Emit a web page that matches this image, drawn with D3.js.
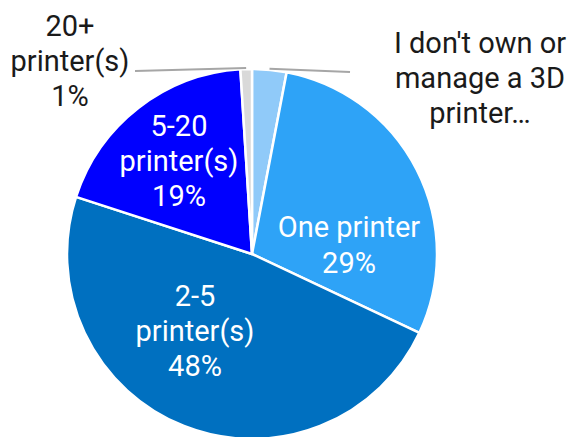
<!DOCTYPE html>
<html>
<head>
<meta charset="utf-8">
<script src="https://cdn.jsdelivr.net/npm/d3@7/dist/d3.min.js"></script>
<style>
  html, body { margin: 0; padding: 0; background: #fff; }
  svg { display: block; font-family: Roboto, "Noto Sans", sans-serif; }
</style>
</head>
<body>
<svg id="chart" width="572" height="437"></svg>
<script>
// Printer ownership shares (percent), clockwise from 12 o'clock
const categories = ["I don't own or manage a 3D printer…", "One printer", "2-5 printer(s)", "5-20 printer(s)", "20+ printer(s)"];
const values = [3, 29, 48, 19, 1];
const colors = ["#90CAF9", "#2EA3F7", "#0070C0", "#0000FF", "#D9D9D9"];

// Wrapped label text for each slice
const labelLines = [
  ["I don't own or", "manage a 3D", "printer…"],
  ["One printer", values[1] + "%"],
  ["2-5", "printer(s)", values[2] + "%"],
  ["5-20", "printer(s)", values[3] + "%"],
  ["20+", "printer(s)", values[4] + "%"]
];

const cx = 252, cy = 254, R = 185;
const fontSize = 29, lineH = 35;

const svg = d3.select("#chart");
const g = svg.append("g").attr("transform", `translate(${cx},${cy})`);

const pie = d3.pie().sort(null).value(d => d)(values);
const arc = d3.arc().innerRadius(0).outerRadius(R);

g.selectAll("path.slice")
  .data(pie)
  .join("path")
  .attr("class", "slice")
  .attr("d", arc)
  .attr("fill", (d, i) => colors[i])
  .attr("stroke", "#fff")
  .attr("stroke-width", 2.5)
  .attr("stroke-linejoin", "round");

const midAngle = d => (d.startAngle + d.endAngle) / 2;

function drawLabel(i, x, firstBaseline, fill, step) {
  const t = svg.append("text")
    .attr("text-anchor", "middle")
    .attr("fill", fill)
    .attr("font-size", fontSize);
  labelLines[i].forEach((s, k) =>
    t.append("tspan").attr("x", x).attr("y", firstBaseline + k * (step || lineH)).text(s));
}

// Labels placed inside the larger slices
drawLabel(1, 349, 237, "#fff", 36);
drawLabel(2, 195, 306, "#fff");
drawLabel(3, 179, 136, "#fff");

// Thin slices get outside labels joined by leader lines
const outside = [
  { i: 0, lx: 480, base: 53, endX: 350, endY: 72 },
  { i: 4, lx: 70, base: 36, endX: 135, endY: 71 }
];

outside.forEach(({ i, lx, base, endX, endY }) => {
  const a = midAngle(pie[i]);
  svg.append("line")
    .attr("x1", cx + Math.sin(a) * (R + 1))
    .attr("y1", cy - Math.cos(a) * (R + 1))
    .attr("x2", endX).attr("y2", endY)
    .attr("stroke", "#A6A6A6")
    .attr("stroke-width", 2);
  drawLabel(i, lx, base, "#1a1a1a");
});
</script>
</body>
</html>
